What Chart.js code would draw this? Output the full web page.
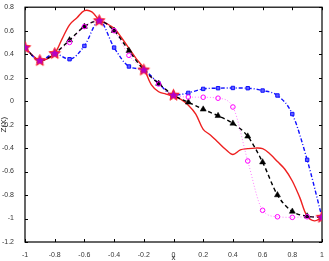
<!DOCTYPE html>
<html>
<head>
<meta charset="utf-8">
<script src="https://cdn.jsdelivr.net/npm/chart.js@4.4.1/dist/chart.umd.min.js"></script>
<style>
  html, body { margin: 0; padding: 0; background: #fff; }
  #wrap { width: 329px; height: 261px; }
</style>
</head>
<body>
<div id="wrap"><canvas id="chart"></canvas></div>
<script>
// ── DATA ─────────────────────────────────────────────────────────────────────
const xTicks = [-1, -0.8, -0.6, -0.4, -0.2, 0, 0.2, 0.4, 0.6, 0.8, 1];
const yTicks = [0.8, 0.6, 0.4, 0.2, 0, -0.2, -0.4, -0.6, -0.8, -1, -1.2];

// marker positions shared by the three interpolants
const markX = [-1, -0.9, -0.8, -0.7, -0.6, -0.5, -0.4, -0.3, -0.2, -0.1, 0,
               0.1, 0.2, 0.3, 0.4, 0.5, 0.6, 0.7, 0.8, 0.9, 1];
const triVals = [0.456, 0.345, 0.405, 0.52, 0.635, 0.685, 0.60, 0.43, 0.265, 0.15, 0.05,
                 -0.01, -0.07, -0.125, -0.19, -0.30, -0.52, -0.80, -0.94, -0.98, -0.99];
const sqVals = [0.456, 0.345, 0.405, 0.357, 0.47, 0.685, 0.456, 0.295, 0.265, 0.15, 0.05,
                0.07, 0.104, 0.11, 0.112, 0.11, 0.09, 0.048, -0.11, -0.50, -0.99];
const circVals = [0.456, 0.345, 0.405, 0.50, 0.635, 0.685, 0.60, 0.39, 0.265, 0.146, 0.05,
                  0.035, 0.033, 0.025, -0.05, -0.51, -0.93, -0.985, -0.99, -0.985, -0.99];

// the sample points (stars)
const starX = [-1, -0.9, -0.8, -0.5, -0.2, 0, 1];
const starY = [0.456, 0.345, 0.405, 0.685, 0.265, 0.05, -0.99];

// exact curve (red)
const redX = [-1, -0.95, -0.9, -0.85, -0.8, -0.75, -0.7, -0.65, -0.6, -0.55, -0.5,
              -0.45, -0.4, -0.35, -0.3, -0.25, -0.2, -0.15, -0.1, -0.05, 0,
              0.05, 0.1, 0.15, 0.2, 0.25, 0.3, 0.35, 0.4, 0.45, 0.5,
              0.55, 0.6, 0.65, 0.7, 0.75, 0.8, 0.85, 0.9, 0.95, 1];
const redY = [0.456, 0.39, 0.345, 0.36, 0.405, 0.53, 0.65, 0.71, 0.77, 0.76, 0.69,
              0.66, 0.62, 0.54, 0.45, 0.36, 0.28, 0.14, 0.08, 0.06, 0.04,
              0.015, -0.035, -0.11, -0.24, -0.29, -0.35, -0.41, -0.455, -0.415, -0.405,
              -0.40, -0.405, -0.45, -0.515, -0.58, -0.68, -0.82, -0.98, -1.02, -0.99];

const pts = (xs, ys) => xs.map((x, i) => ({ x, y: ys[i] }));

// ── MARKERS ──────────────────────────────────────────────────────────────────
function starImg(r) {
  const c = document.createElement('canvas');
  const s = Math.ceil(r * 2 + 3);
  c.width = c.height = s;
  const g = c.getContext('2d');
  g.translate(s / 2, s / 2);
  g.beginPath();
  for (let i = 0; i < 10; i++) {
    const rr = i % 2 ? r * 0.45 : r;
    const a = -Math.PI / 2 + i * Math.PI / 5;
    g.lineTo(rr * Math.cos(a), rr * Math.sin(a));
  }
  g.closePath();
  g.fillStyle = '#b400c8'; g.fill();
  g.strokeStyle = '#ff2020'; g.lineWidth = 1; g.stroke();
  return c;
}

// box + inward ticks on all four sides, matlab style
const frame = {
  id: 'frame',
  beforeDatasetsDraw(chart) {
    const { ctx, chartArea: a, scales: { x, y } } = chart;
    ctx.save();
    ctx.strokeStyle = '#000'; ctx.lineWidth = 1;
    ctx.beginPath();
    xTicks.forEach(v => {
      const px = Math.round(x.getPixelForValue(v)) + 0.5;
      ctx.moveTo(px, a.bottom); ctx.lineTo(px, a.bottom - 3);
      ctx.moveTo(px, a.top); ctx.lineTo(px, a.top + 3);
    });
    yTicks.forEach(v => {
      const py = Math.round(y.getPixelForValue(v)) + 0.5;
      ctx.moveTo(a.left, py); ctx.lineTo(a.left + 3, py);
      ctx.moveTo(a.right, py); ctx.lineTo(a.right - 3, py);
    });
    ctx.stroke();
    ctx.lineWidth = 1.2;
    ctx.strokeRect(a.left, a.top, a.right - a.left, a.bottom - a.top);
    ctx.restore();
  }
};

const tickFont = { family: 'Liberation Sans', size: 7 };
const titleFont = { family: 'Liberation Sans', size: 8 };

new Chart(document.getElementById('chart'), {
  type: 'line',
  data: {
    datasets: [
      { data: pts(starX, starY), showLine: false, pointStyle: starImg(6), pointRadius: 6 },
      { data: pts(markX, circVals), borderColor: 'rgba(255,0,255,0.5)', borderWidth: 1, borderDash: [1, 2],
        pointStyle: 'circle', pointRadius: 2.3, pointBorderColor: '#ff00ff', pointBackgroundColor: 'rgba(255,255,255,0)',
        pointBorderWidth: 1, cubicInterpolationMode: 'monotone' },
      { data: pts(markX, triVals), borderColor: '#000', borderWidth: 1.4, borderDash: [4, 3],
        pointStyle: 'triangle', pointRadius: 3.5, pointBackgroundColor: '#000', pointBorderColor: '#000',
        pointBorderWidth: 0.5, cubicInterpolationMode: 'monotone' },
      { data: pts(markX, sqVals), borderColor: '#1010ff', borderWidth: 1.4, borderDash: [4, 2, 1, 2],
        pointStyle: 'rect', pointRadius: 2.4, pointBackgroundColor: '#6060ff', pointBorderColor: '#1010ff',
        pointBorderWidth: 1, cubicInterpolationMode: 'monotone' },
      { data: pts(redX, redY), borderColor: '#ee2020', borderWidth: 1.4, pointRadius: 0, tension: 0.35 }
    ]
  },
  options: {
    responsive: true, maintainAspectRatio: false, animation: false,
    layout: { padding: { top: 4, right: 4, left: 0, bottom: 0 } },
    plugins: { legend: { display: false }, tooltip: { enabled: false } },
    scales: {
      x: {
        type: 'linear', min: -1, max: 1,
        afterFit: s => { s.height = 19; },
        afterBuildTicks: s => { s.ticks = xTicks.map(v => ({ value: v })); },
        ticks: { font: tickFont, color: '#333', padding: 1, maxRotation: 0, autoSkip: false,
                 callback: v => String(+v.toFixed(1)) },
        grid: { display: false }, border: { display: false },
        title: { display: true, text: 'x', font: titleFont, color: '#222', padding: { top: 0, bottom: -2 } }
      },
      y: {
        min: -1.2, max: 0.8,
        afterFit: s => { s.width = 25; },
        afterBuildTicks: s => { s.ticks = yTicks.map(v => ({ value: v })); },
        ticks: { font: tickFont, color: '#333', padding: 3, autoSkip: false,
                 callback: v => String(+v.toFixed(1)) },
        grid: { display: false }, border: { display: false },
        title: { display: true, text: 'Z(X)', font: titleFont, color: '#222', padding: { top: -1, bottom: 0 } }
      }
    }
  },
  plugins: [frame]
});
</script>
</body>
</html>
